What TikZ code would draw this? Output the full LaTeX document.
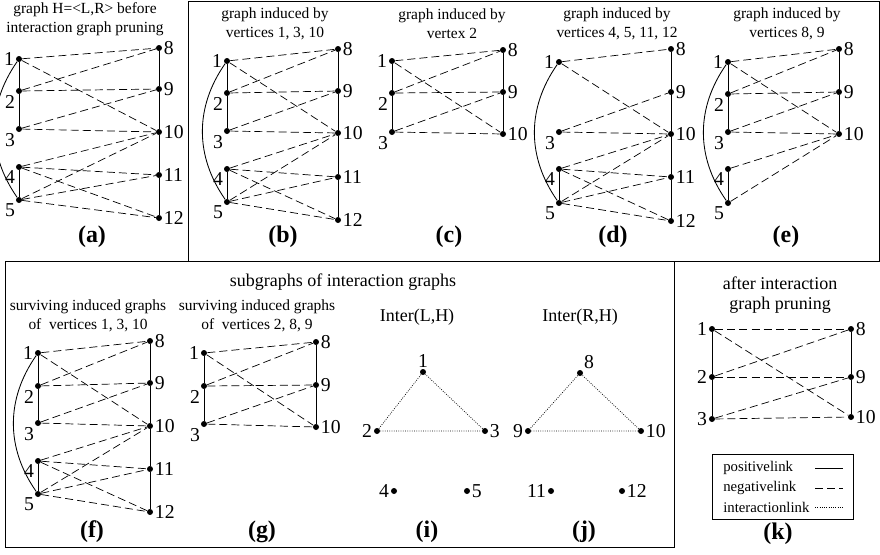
\documentclass[tikz,border=0pt]{standalone}
\usepackage{fontspec}
\setmainfont{Liberation Serif}

\begin{document}
\begin{tikzpicture}[x=0.025cm,y=-0.025cm,
  dot/.style={circle,fill,inner sep=0pt,minimum size=0.15cm},
  vl/.style={font=\fontsize{14}{14}\selectfont,inner sep=1pt},
  lblL/.style={label={[vl]left:#1}},
  lblSW/.style={label={[vl]below left:#1}},
  lblR/.style={label={[vl]right:#1}},
  lblA/.style={label={[vl]above:#1}},
  lblAR/.style={label={[vl]above right:#1}},
  poslink/.style={line width=0.6pt},
  neglink/.style={line width=0.5pt,dash pattern=on 5.7pt off 2.9pt},
  intlink/.style={line width=0.5pt,dash pattern=on 0.6pt off 1pt},
  capt/.style={font=\fontsize{11}{13.5}\selectfont,align=center},
  ttl/.style={font=\fontsize{12.8}{14.5}\selectfont,align=center},
  tagtxt/.style={font=\fontsize{17}{17}\selectfont\bfseries},
  legtxt/.style={font=\fontsize{10.5}{12}\selectfont,anchor=west,inner sep=0pt},
  frm/.style={line width=0.7pt}
]
\useasboundingbox (0,0) rectangle (880,554);

% frames
\draw[frm] (188,1) rectangle (879,261);
\draw[frm] (5,261) rectangle (674,547);

% (a) graph before pruning
\node[capt] (capa) at (85,19) {graph H=<L,R> before\\interaction graph pruning};
\node[dot,lblL=1]   (a1)  at (19,59)  {};
\node[dot,lblSW=2]  (a2)  at (19,91)  {};
\node[dot,lblSW=3]  (a3)  at (19,129) {};
\node[dot,lblSW=4]  (a4)  at (19,167) {};
\node[dot,lblSW=5]  (a5)  at (19,200) {};
\node[dot,lblR=8]   (a8)  at (159,48)  {};
\node[dot,lblR=9]   (a9)  at (159,89)  {};
\node[dot,lblR=10]  (a10) at (159,132) {};
\node[dot,lblR=11]  (a11) at (159,175) {};
\node[dot,lblR=12]  (a12) at (159,218) {};
\draw[poslink] (a1) -- (a2) -- (a3);
\draw[poslink] (a4) -- (a5);
\draw[poslink] (a8) -- (a9) -- (a10) -- (a11) -- (a12);
\draw[poslink] (a1) to[bend right=35] (a5);
\foreach \s/\t in {1/8,1/10,2/8,2/9,3/9,3/10,4/10,4/11,4/12,5/10,5/11,5/12}
  \draw[neglink] (a\s) -- (a\t);
\node[tagtxt] (taga) at (92,237) {(a)};

% (b) induced by 1, 3, 10
\node[capt] (capb) at (275,24) {graph induced by\\vertices 1, 3, 10};
\node[dot,lblL=1]   (b1)  at (227,61)  {};
\node[dot,lblSW=2]  (b2)  at (227,93)  {};
\node[dot,lblSW=3]  (b3)  at (227,131) {};
\node[dot,lblSW=4]  (b4)  at (227,169) {};
\node[dot,lblSW=5]  (b5)  at (227,202) {};
\node[dot,lblR=8]   (b8)  at (338,49)  {};
\node[dot,lblR=9]   (b9)  at (338,91)  {};
\node[dot,lblR=10]  (b10) at (338,133) {};
\node[dot,lblR=11]  (b11) at (338,177) {};
\node[dot,lblR=12]  (b12) at (338,220) {};
\draw[poslink] (b1) -- (b2) -- (b3);
\draw[poslink] (b4) -- (b5);
\draw[poslink] (b8) -- (b9) -- (b10) -- (b11) -- (b12);
\draw[poslink] (b1) to[bend right=35] (b5);
\foreach \s/\t in {1/8,1/10,2/8,2/9,3/9,3/10,4/10,4/11,4/12,5/10,5/11,5/12}
  \draw[neglink] (b\s) -- (b\t);
\node[tagtxt] (tagb) at (283,237) {(b)};

% (c) induced by 2
\node[capt] (capc) at (452,24) {graph induced by\\vertex 2};
\node[dot,lblL=1]   (c1)  at (392,61)  {};
\node[dot,lblSW=2]  (c2)  at (392,93)  {};
\node[dot,lblSW=3]  (c3)  at (392,132) {};
\node[dot,lblR=8]   (c8)  at (503,50)  {};
\node[dot,lblR=9]   (c9)  at (503,92)  {};
\node[dot,lblR=10]  (c10) at (503,134) {};
\draw[poslink] (c1) -- (c2) -- (c3);
\draw[poslink] (c8) -- (c9) -- (c10);
\foreach \s/\t in {1/8,1/10,2/8,2/9,3/9,3/10}
  \draw[neglink] (c\s) -- (c\t);
\node[tagtxt] (tagc) at (449,237) {(c)};

% (d) induced by 4, 5, 11, 12
\node[capt] (capd) at (617,24) {graph induced by\\vertices 4, 5, 11, 12};
\node[dot,lblL=1]   (d1)  at (559,62)  {};
\node[dot,lblSW=3]  (d3)  at (559,132) {};
\node[dot,lblSW=4]  (d4)  at (559,169) {};
\node[dot,lblSW=5]  (d5)  at (559,203) {};
\node[dot,lblR=8]   (d8)  at (671,49)  {};
\node[dot,lblR=9]   (d9)  at (671,92)  {};
\node[dot,lblR=10]  (d10) at (671,134) {};
\node[dot,lblR=11]  (d11) at (671,177) {};
\node[dot,lblR=12]  (d12) at (671,221) {};
\draw[poslink] (d4) -- (d5);
\draw[poslink] (d8) -- (d9) -- (d10) -- (d11) -- (d12);
\draw[poslink] (d1) to[bend right=35] (d5);
\foreach \s/\t in {1/8,1/10,3/9,3/10,4/10,4/11,4/12,5/10,5/11,5/12}
  \draw[neglink] (d\s) -- (d\t);
\node[tagtxt] (tagd) at (613,237) {(d)};

% (e) induced by 8, 9
\node[capt] (cape) at (787,24) {graph induced by\\vertices 8, 9};
\node[dot,lblL=1]   (e1)  at (728,62)  {};
\node[dot,lblSW=2]  (e2)  at (728,94)  {};
\node[dot,lblSW=3]  (e3)  at (728,132) {};
\node[dot,lblSW=4]  (e4)  at (728,169) {};
\node[dot,lblSW=5]  (e5)  at (728,203) {};
\node[dot,lblR=8]   (e8)  at (839,49)  {};
\node[dot,lblR=9]   (e9)  at (839,92)  {};
\node[dot,lblR=10]  (e10) at (839,134) {};
\draw[poslink] (e1) -- (e2) -- (e3);
\draw[poslink] (e4) -- (e5);
\draw[poslink] (e8) -- (e9) -- (e10);
\draw[poslink] (e1) to[bend right=35] (e5);
\foreach \s/\t in {1/8,1/10,2/8,2/9,3/9,3/10,4/10,5/10}
  \draw[neglink] (e\s) -- (e\t);
\node[tagtxt] (tage) at (786,237) {(e)};

% subgraphs of interaction graphs
\node[ttl] (title) at (343,282) {subgraphs of interaction graphs};

% (f) surviving 1, 3, 10
\node[capt] (capf) at (88,316) {surviving induced graphs\\of\ \ vertices 1, 3, 10};
\node[dot,lblL=1]   (f1)  at (38,353)  {};
\node[dot,lblSW=2]  (f2)  at (38,386)  {};
\node[dot,lblSW=3]  (f3)  at (38,423)  {};
\node[dot,lblSW=4]  (f4)  at (38,461)  {};
\node[dot,lblSW=5]  (f5)  at (38,494)  {};
\node[dot,lblR=8]   (f8)  at (150,341) {};
\node[dot,lblR=9]   (f9)  at (150,383) {};
\node[dot,lblR=10]  (f10) at (150,426) {};
\node[dot,lblR=11]  (f11) at (150,469) {};
\node[dot,lblR=12]  (f12) at (150,512) {};
\draw[poslink] (f1) -- (f2) -- (f3);
\draw[poslink] (f4) -- (f5);
\draw[poslink] (f8) -- (f9) -- (f10) -- (f11) -- (f12);
\draw[poslink] (f1) to[bend right=35] (f5);
\foreach \s/\t in {1/8,1/10,2/8,2/9,3/9,3/10,4/10,4/11,4/12,5/10,5/11,5/12}
  \draw[neglink] (f\s) -- (f\t);
\node[tagtxt] (tagf) at (92,532) {(f)};

% (g) surviving 2, 8, 9
\node[capt] (capg) at (257,316) {surviving induced graphs\\of\ \ vertices 2, 8, 9};
\node[dot,lblL=1]   (g1)  at (204,353) {};
\node[dot,lblSW=2]  (g2)  at (204,386) {};
\node[dot,lblSW=3]  (g3)  at (204,424) {};
\node[dot,lblR=8]   (g8)  at (316,342) {};
\node[dot,lblR=9]   (g9)  at (316,385) {};
\node[dot,lblR=10]  (g10) at (316,427) {};
\draw[poslink] (g1) -- (g2) -- (g3);
\draw[poslink] (g8) -- (g9) -- (g10);
\foreach \s/\t in {1/8,1/10,2/8,2/9,3/9,3/10}
  \draw[neglink] (g\s) -- (g\t);
\node[tagtxt] (tagg) at (262,532) {(g)};

% (i) Inter(L,H)
\node[ttl] (capi) at (417,317) {Inter(L,H)};
\node[dot,lblA=1]   (i1) at (423,372) {};
\node[dot,lblL=2]   (i2) at (377,431) {};
\node[dot,lblR=3]   (i3) at (485,431) {};
\node[dot,lblL=4]   (i4) at (394,491) {};
\node[dot,lblR=5]   (i5) at (467,491) {};
\draw[intlink] (i1) -- (i2) -- (i3) -- (i1);
\node[tagtxt] (tagi) at (427,532) {(i)};

% (j) Inter(R,H)
\node[ttl] (capj) at (580,317) {Inter(R,H)};
\node[dot,lblAR=8]  (j8)  at (580,373) {};
\node[dot,lblL=9]   (j9)  at (528,431) {};
\node[dot,lblR=10]  (j10) at (641,431) {};
\node[dot,lblL=11]  (j11) at (551,491) {};
\node[dot,lblR=12]  (j12) at (622,491) {};
\draw[intlink] (j8) -- (j9) -- (j10) -- (j8);
\node[tagtxt] (tagj) at (584,532) {(j)};

% (k) after pruning
\node[ttl] (capk) at (780,295) {after interaction\\graph pruning};
\node[dot,lblL=1]   (k1)  at (712,329) {};
\node[dot,lblL=2]   (k2)  at (712,377) {};
\node[dot,lblL=3]   (k3)  at (712,419) {};
\node[dot,lblR=8]   (k8)  at (851,329) {};
\node[dot,lblR=9]   (k9)  at (851,377) {};
\node[dot,lblR=10]  (k10) at (851,417) {};
\draw[poslink] (k1) -- (k2) -- (k3);
\draw[poslink] (k8) -- (k9) -- (k10);
\foreach \s/\t in {1/8,1/10,2/8,2/9,3/9,3/10}
  \draw[neglink] (k\s) -- (k\t);

% legend
\draw[line width=0.6pt] (712,454) rectangle (853,519);
\node[legtxt] (lpos) at (723,468) {positivelink};
\node[legtxt] (lneg) at (723,488) {negativelink};
\node[legtxt] (litr) at (723,507) {interactionlink};
\coordinate (p1) at (815,468); \coordinate (p2) at (843,468);
\coordinate (n1) at (815,488); \coordinate (n2) at (843,488);
\coordinate (t1) at (815,507); \coordinate (t2) at (843,507);
\draw[poslink] (p1) -- (p2);
\draw[neglink] (n1) -- (n2);
\draw[intlink] (t1) -- (t2);
\node[tagtxt] (tagk) at (778,534) {(k)};
\end{tikzpicture}
\end{document}
